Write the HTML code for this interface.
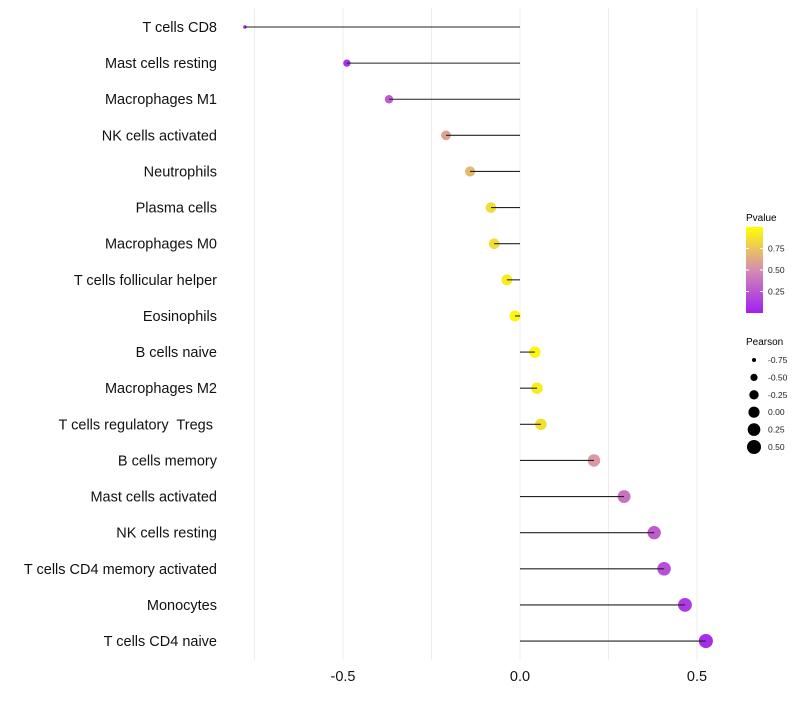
<!DOCTYPE html>
<html><head><meta charset="utf-8"><style>
body{margin:0;background:#fff;font-family:"Liberation Sans",sans-serif}
svg text{font-family:"Liberation Sans",sans-serif;white-space:pre}
</style></head><body>
<svg id="chart" width="800" height="700">
<defs><linearGradient id="pg" x1="0" y1="1" x2="0" y2="0">
<stop offset="0" stop-color="#a020f0"/><stop offset="0.5" stop-color="#d58cb4"/><stop offset="1" stop-color="#ffff00"/>
</linearGradient></defs>
<g id="grid"></g>
<g id="pts"></g>
<g id="marks"></g>
<g id="ylab"></g>
<g id="xlab"></g>
<g>
<text x="746" y="221" font-size="10">Pvalue</text>
<rect x="746" y="227" width="17" height="86" fill="url(#pg)"/>
<g id="cbt"></g>
</g>
<g id="sizeleg">
<text x="746" y="345" font-size="10">Pearson</text>
</g>
</svg>
<script>
const categories=["T cells CD8","Mast cells resting","Macrophages M1","NK cells activated","Neutrophils","Plasma cells","Macrophages M0","T cells follicular helper","Eosinophils","B cells naive","Macrophages M2","T cells regulatory  Tregs ","B cells memory","Mast cells activated","NK cells resting","T cells CD4 memory activated","Monocytes","T cells CD4 naive"];
const pearson=[-0.777,-0.489,-0.37,-0.209,-0.141,-0.082,-0.073,-0.037,-0.014,0.042,0.048,0.059,0.209,0.294,0.379,0.407,0.466,0.525];
const pvalue=[0.0,0.08,0.28,0.6,0.7,0.85,0.85,0.92,0.96,0.96,0.92,0.86,0.55,0.38,0.28,0.22,0.12,0.06];
const xTicks=[-0.5,0,0.5];
const xTickLabels=["-0.5","0.0","0.5"];
const gridVals=[-0.75,-0.5,-0.25,0,0.25,0.5];
const cbTicks=[0.25,0.5,0.75];
const sizeLegend=[-0.75,-0.5,-0.25,0,0.25,0.5];
const NS="http://www.w3.org/2000/svg";
const x=v=>520+v*354;
const y=i=>27+i*36.12;
const r=v=>Math.sqrt(Math.max(1,4+36*(v+0.75)));
function lerp(a,b,t){return a.map((c,k)=>Math.round(c+(b[k]-c)*t));}
function col(p){const s=[[160,32,240],[213,140,180],[255,255,0]];let c=p<0.5?lerp(s[0],s[1],p/0.5):lerp(s[1],s[2],(p-0.5)/0.5);return`rgb(${c})`;}
function mk(t,a,parent){const e=document.createElementNS(NS,t);for(const k in a)e.setAttribute(k,a[k]);parent.appendChild(e);return e;}
const grid=document.getElementById('grid'),marks=document.getElementById('marks'),pts=document.getElementById('pts'),ylab=document.getElementById('ylab'),xlab=document.getElementById('xlab');
gridVals.forEach(v=>{const l=mk('line',{x1:x(v),x2:x(v),y1:8,y2:660,stroke:'#ececec','stroke-width':1},grid);

});
categories.forEach((c,i)=>{
const p=mk('circle',{cx:x(pearson[i]),cy:y(i),r:r(pearson[i]),fill:col(pvalue[i])},pts);


const l=mk('line',{x1:x(0),x2:x(pearson[i]),y1:y(i),y2:y(i),stroke:'#222','stroke-width':1.1},marks);


const t=mk('text',{x:217,y:y(i)+5,'text-anchor':'end','font-size':14.5,fill:'#111'},ylab);t.textContent=c;


});
xTicks.forEach((v,i)=>{const t=mk('text',{x:x(v),y:681,'text-anchor':'middle','font-size':14.5,fill:'#111'},xlab);t.textContent=xTickLabels[i];

});
const cbt=document.getElementById('cbt');
cbTicks.forEach(v=>{const yy=313-v*86;mk('line',{x1:746,x2:749,y1:yy,y2:yy,stroke:'#fff'},cbt);mk('line',{x1:760,x2:763,y1:yy,y2:yy,stroke:'#fff'},cbt);
const t=mk('text',{x:768,y:yy+3,'font-size':8.5,fill:'#222'},cbt);t.textContent=v.toFixed(2);

});
const sl=document.getElementById('sizeleg');
sizeLegend.forEach((v,i)=>{const yy=360+i*17.4;const c=mk('circle',{cx:754,cy:yy,r:r(v),fill:'#000'},sl);


const t=mk('text',{x:768,y:yy+3,'font-size':8.5,fill:'#222'},sl);t.textContent=v.toFixed(2);

});
</script>
</body></html>
